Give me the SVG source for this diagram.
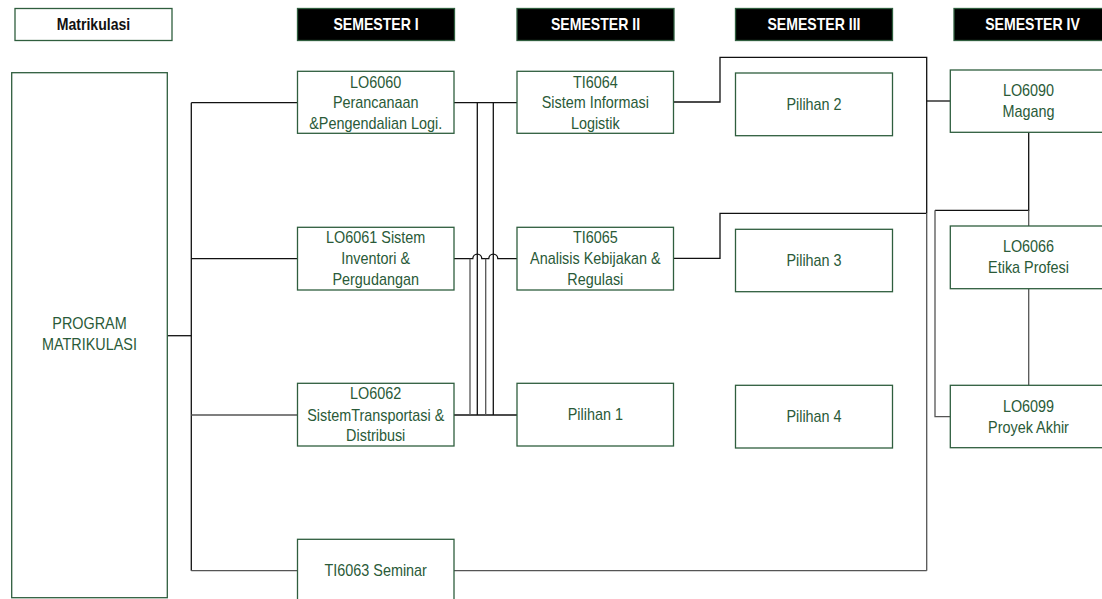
<svg xmlns="http://www.w3.org/2000/svg" width="1102" height="599" viewBox="0 0 1102 599">
  <style>
    .box { fill: #ffffff; stroke: #2f5e3e; stroke-width: 1.3; }
    .hdr { fill: #000000; stroke: #2f5e3e; stroke-width: 1.3; }
    .hdrw { fill: #ffffff; stroke: #2f5e3e; stroke-width: 1.3; }
    .t { font-family: "Liberation Sans", Arial, sans-serif; font-size: 16px; fill: #2a5a38; text-anchor: middle; }
    .ht { font-family: "Liberation Sans", Arial, sans-serif; font-size: 16px; font-weight: bold; fill: #ffffff; text-anchor: middle; }
    .htd { fill: #111111; }
    .ln { fill: none; stroke: #111111; stroke-width: 1.3; }
    .lg { fill: none; stroke: #555555; stroke-width: 1.3; }
  </style>

  <!-- column headers -->
  <g id="hdr-matrikulasi">
    <rect class="hdrw" x="15" y="8.5" width="157" height="32"/>
    <text class="ht htd" transform="matrix(0.88 0 0 1 93.5 30)">Matrikulasi</text>
  </g>
  <g id="hdr-sem1">
    <rect class="hdr" x="297.5" y="8.5" width="157" height="32"/>
    <text class="ht" transform="matrix(0.88 0 0 1 376 30)">SEMESTER I</text>
  </g>
  <g id="hdr-sem2">
    <rect class="hdr" x="517" y="8.5" width="157" height="32"/>
    <text class="ht" transform="matrix(0.88 0 0 1 595.5 30)">SEMESTER II</text>
  </g>
  <g id="hdr-sem3">
    <rect class="hdr" x="735.5" y="8.5" width="157" height="32"/>
    <text class="ht" transform="matrix(0.88 0 0 1 814 30)">SEMESTER III</text>
  </g>
  <g id="hdr-sem4">
    <rect class="hdr" x="954" y="8.5" width="157" height="32"/>
    <text class="ht" transform="matrix(0.88 0 0 1 1032.5 30)">SEMESTER IV</text>
  </g>

  <!-- connectors -->
  <g id="connectors">
    <!-- matriculation trunk -->
    <path class="ln" d="M167.5 335.7 H191.3"/>
    <path class="ln" d="M191.3 102.7 V570.7"/>
    <path class="ln" d="M191.3 102.7 H297.5"/>
    <path class="ln" d="M191.3 258.7 H297.5"/>
    <path class="lg" d="M191.3 415 H297.5"/>
    <path class="lg" d="M191.3 570.7 H297.5"/>

    <!-- semester I to semester II bundle -->
    <path class="ln" d="M454 102.7 H517"/>
    <path class="ln" d="M454 415 H517"/>
    <path class="ln" d="M454 258.7 H472.8 A4.5 4.5 0 0 1 481.8 258.7 H488.8 A4.5 4.5 0 0 1 497.8 258.7 H517"/>
    <path class="ln" d="M477.3 102.7 V415"/>
    <path class="ln" d="M493.3 102.7 V415"/>
    <path class="lg" d="M470 258.7 V415"/>
    <path class="lg" d="M485.7 258.7 V415"/>

    <!-- semester II to semester IV -->
    <path class="ln" d="M674 102 H720 V57.3 H926.7 V213.3"/>
    <path class="ln" d="M674 258.3 H720 V213.3 H926.7"/>
    <path class="lg" d="M926.7 213.3 V570.7"/>
    <path class="ln" d="M926.7 101 H950"/>
    <path class="lg" d="M454 570.7 H926.7"/>

    <!-- semester IV chain -->
    <path class="ln" d="M1028.7 132.5 V210.3 H935"/>
    <path class="lg" d="M935 210.3 V416.7 H950"/>
    <path class="lg" d="M1028.7 210.3 V226"/>
    <path class="lg" d="M1028.7 289 V385.3"/>
  </g>

  <!-- matriculation block -->
  <g id="program-matrikulasi">
    <rect class="box" x="11.7" y="72.7" width="155.6" height="525"/>
    <text class="t" transform="matrix(0.9 0 0 1 89.5 0)"><tspan x="0" y="329.5">PROGRAM</tspan><tspan x="0" y="350.5">MATRIKULASI</tspan></text>
  </g>

  <!-- semester I -->
  <g id="lo6060">
    <rect class="box" x="297.5" y="71.3" width="156.5" height="62"/>
    <text class="t" transform="matrix(0.9 0 0 1 375.7 0)"><tspan x="0" y="87.7">LO6060</tspan><tspan x="0" y="108.4">Perancanaan</tspan><tspan x="0" y="129">&amp;Pengendalian Logi.</tspan></text>
  </g>
  <g id="lo6061">
    <rect class="box" x="297.5" y="227.3" width="156.5" height="62.7"/>
    <text class="t" transform="matrix(0.9 0 0 1 375.7 0)"><tspan x="0" y="243">LO6061 Sistem</tspan><tspan x="0" y="264.4">Inventori &amp;</tspan><tspan x="0" y="285">Pergudangan</tspan></text>
  </g>
  <g id="lo6062">
    <rect class="box" x="297.5" y="383.3" width="156.5" height="62.7"/>
    <text class="t" transform="matrix(0.9 0 0 1 375.7 0)"><tspan x="0" y="399">LO6062</tspan><tspan x="0" y="420.7">SistemTransportasi &amp;</tspan><tspan x="0" y="441">Distribusi</tspan></text>
  </g>
  <g id="ti6063">
    <rect class="box" x="297.5" y="539.3" width="156.5" height="63"/>
    <text class="t" transform="matrix(0.9 0 0 1 375.7 0)"><tspan x="0" y="576.4">TI6063 Seminar</tspan></text>
  </g>

  <!-- semester II -->
  <g id="ti6064">
    <rect class="box" x="517" y="71.3" width="156.5" height="62"/>
    <text class="t" transform="matrix(0.9 0 0 1 595.3 0)"><tspan x="0" y="87.7">TI6064</tspan><tspan x="0" y="108.4">Sistem Informasi</tspan><tspan x="0" y="129">Logistik</tspan></text>
  </g>
  <g id="ti6065">
    <rect class="box" x="517" y="227.3" width="156.5" height="62.7"/>
    <text class="t" transform="matrix(0.9 0 0 1 595.3 0)"><tspan x="0" y="243">TI6065</tspan><tspan x="0" y="264.4">Analisis Kebijakan &amp;</tspan><tspan x="0" y="285">Regulasi</tspan></text>
  </g>
  <g id="pilihan1">
    <rect class="box" x="517" y="383.3" width="156.5" height="62.7"/>
    <text class="t" transform="matrix(0.9 0 0 1 595.3 0)"><tspan x="0" y="420">Pilihan 1</tspan></text>
  </g>

  <!-- semester III -->
  <g id="pilihan2">
    <rect class="box" x="735.5" y="73" width="157" height="62.7"/>
    <text class="t" transform="matrix(0.9 0 0 1 814 0)"><tspan x="0" y="109.8">Pilihan 2</tspan></text>
  </g>
  <g id="pilihan3">
    <rect class="box" x="735.5" y="229.3" width="157" height="62.4"/>
    <text class="t" transform="matrix(0.9 0 0 1 814 0)"><tspan x="0" y="265.8">Pilihan 3</tspan></text>
  </g>
  <g id="pilihan4">
    <rect class="box" x="735.5" y="385.3" width="157" height="62.7"/>
    <text class="t" transform="matrix(0.9 0 0 1 814 0)"><tspan x="0" y="422.4">Pilihan 4</tspan></text>
  </g>

  <!-- semester IV -->
  <g id="lo6090">
    <rect class="box" x="950.3" y="70" width="157" height="62.3"/>
    <text class="t" transform="matrix(0.9 0 0 1 1028.5 0)"><tspan x="0" y="96">LO6090</tspan><tspan x="0" y="117">Magang</tspan></text>
  </g>
  <g id="lo6066">
    <rect class="box" x="950.3" y="226" width="157" height="62.7"/>
    <text class="t" transform="matrix(0.9 0 0 1 1028.5 0)"><tspan x="0" y="251.7">LO6066</tspan><tspan x="0" y="273.2">Etika Profesi</tspan></text>
  </g>
  <g id="lo6099">
    <rect class="box" x="950.3" y="385.3" width="157" height="62.4"/>
    <text class="t" transform="matrix(0.9 0 0 1 1028.5 0)"><tspan x="0" y="411.7">LO6099</tspan><tspan x="0" y="433">Proyek Akhir</tspan></text>
  </g>
</svg>
